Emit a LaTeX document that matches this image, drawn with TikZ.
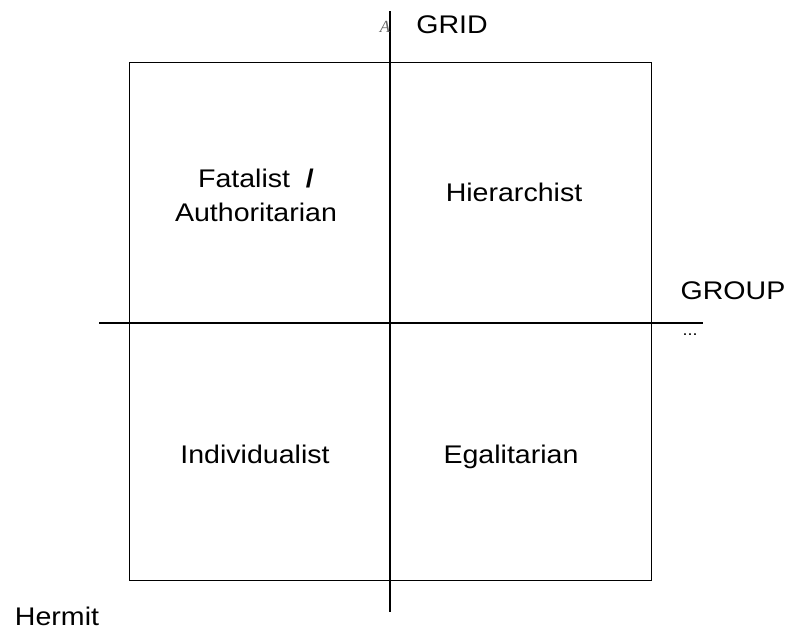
\documentclass[tikz,border=0pt]{standalone}
\usepackage{fontspec}
\setmainfont{Liberation Sans}[FakeStretch=1.12]
\newfontfamily\markfont{Liberation Serif}
\usetikzlibrary{positioning}

\begin{document}
\begin{tikzpicture}[
        x=1pt, y=-1pt,
        label text/.style={font=\fontsize{25.5}{34}\selectfont, align=center, inner sep=0pt},
        frame box/.style={draw, line width=1pt, minimum width=522pt, minimum height=518pt, inner sep=0pt},
        axis/.style={line width=1.8pt}
    ]
        \useasboundingbox (0,0) rectangle (789,630);

        % the grid/group square
        \node[frame box] (frame) at (390,321) {};

        % axes
        \coordinate (grid-top) at (390,11);
        \coordinate (grid-bottom) at (390,612);
        \coordinate (group-left) at (99,323);
        \coordinate (group-right) at (703,323);
        \draw[axis] (grid-top) -- (grid-bottom);
        \draw[axis] (group-left) -- (group-right);

        % quadrant labels
        \foreach \name/\pos/\label in {
            fatalist/{(256,195)}/{Fatalist \ \textbf{/}\\Authoritarian},
            hierarchist/{(514,192)}/Hierarchist,
            individualist/{(255,454)}/Individualist,
            egalitarian/{(515,457)}/Egalitarian
        } {
            \node[label text] (\name) at \pos {\label};
        }

        % axis names
        \node[label text, anchor=base] (grid) at (452,33) {GRID};
        \node[label text, anchor=base] (group) at (733,299) {GROUP};
        \node[label text, anchor=base] (hermit) at (57,625) {Hermit};
        \node[font=\markfont\itshape\fontsize{17}{17}\selectfont, text=black!60, inner sep=0pt, anchor=base] (arrow-mark) at (385,32) {A};
        \node[font=\fontsize{16}{16}\selectfont, inner sep=0pt, anchor=base] (more) at (690,335) {...};
    \end{tikzpicture}
\end{document}
